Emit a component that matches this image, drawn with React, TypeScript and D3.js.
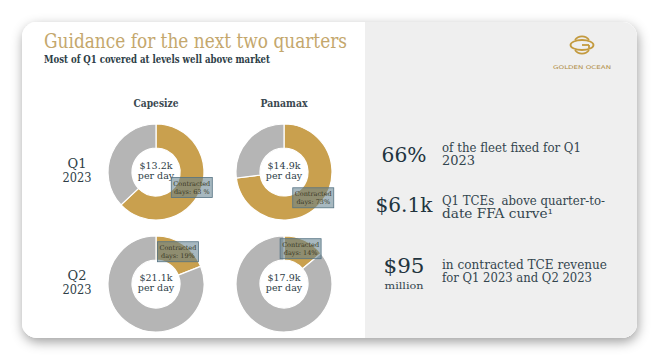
import React from "react";
import * as d3 from "d3";

const categories = ["Capesize", "Panamax"];
const quarters = ["Q1", "Q2"];
const quarterYears = ["2023", "2023"];
const contractedPct = [
  [63, 73],
  [19, 14],
];
const pctLabels = [
  ["63 %", "73%"],
  ["19%", "14%"],
];
const rateK = [
  [13.2, 14.9],
  [21.1, 17.9],
];

const kpiValues = ["66%", "$6.1k", "$95"];
const kpiSub = ["", "", "million"];
const kpiLines = [
  ["of the fleet fixed for Q1", "2023"],
  ["Q1 TCEs  above quarter-to-", "date FFA curve\u00b9"],
  ["in contracted TCE revenue", "for Q1 2023 and Q2 2023"],
];

const W = 660;
const H = 361;
const SERIF = "'DejaVu Serif', 'Liberation Serif', serif";
const GOLD = "#c9a04e";
const GREY = "#b5b5b5";
const DARK = "#2e3e47";

export default function App() {
  const x = d3.scalePoint<string>().domain(categories).range([156, 284]);
  const y = d3.scalePoint<string>().domain(quarters).range([172, 284]);
  const pie = d3
    .pie<number>()
    .sort(null)
    .value((d) => d);
  const arc = d3.arc<d3.PieArcDatum<number>>().innerRadius(24).outerRadius(48);
  const labelArc = d3.arc<d3.PieArcDatum<number>>().innerRadius(30).outerRadius(48);

  const kpiY = [152, 205, 269];
  const kpiBigY = [162, 212, 273];
  const kpiBigW = [45, 57, 41];
  const kpiLineW = [
    [139, 33],
    [163, 111],
    [165, 150],
  ];

  return (
    <svg
      width={W}
      height={H}
      style={{ position: "absolute", left: 0, top: 0, background: "#ffffff" }}
    >
      <defs>
        <filter id="shadow" x="-10%" y="-10%" width="120%" height="130%">
          <feDropShadow dx="1" dy="4" stdDeviation="6" floodColor="#000" floodOpacity="0.38" />
        </filter>
        <clipPath id="card">
          <rect x={22} y={22} width={615} height={316} rx={15} />
        </clipPath>
      </defs>
      <rect x={22} y={22} width={615} height={316} rx={15} fill="#fff" filter="url(#shadow)" />
      <g clipPath="url(#card)">
        <rect x={22} y={22} width={343} height={316} fill="#ffffff" />
        <rect x={365} y={22} width={272} height={316} fill="#efefef" />
      </g>

      {/* Title */}
      <text x={44} y={48} fontFamily={SERIF} fontSize={20} fill="#c4a76c" textLength={303} lengthAdjust="spacingAndGlyphs">
        Guidance for the next two quarters
      </text>
      <text x={44} y={63} fontFamily={SERIF} fontSize={11} fontWeight="bold" fill={DARK} textLength={226} lengthAdjust="spacingAndGlyphs">
        Most of Q1 covered at levels well above market
      </text>

      {/* Column headers */}
      {categories.map((c) => (
        <text key={c} x={x(c)} y={107} textAnchor="middle" fontFamily={SERIF} fontSize={11} fontWeight="bold" fill="#3a4850" textLength={c === "Capesize" ? 45 : 47} lengthAdjust="spacingAndGlyphs">
          {c}
        </text>
      ))}

      {/* Row labels */}
      {quarters.map((q, i) => (
        <g key={q}>
          <text x={77} y={(y(q) as number) - 4} textAnchor="middle" fontFamily={SERIF} fontSize={13} fill={DARK}>
            {q}
          </text>
          <text x={77} y={(y(q) as number) + 10} textAnchor="middle" fontFamily={SERIF} fontSize={13} fill={DARK} textLength={29} lengthAdjust="spacingAndGlyphs">
            {quarterYears[i]}
          </text>
        </g>
      ))}

      {/* Donuts */}
      {quarters.map((q, qi) =>
        categories.map((c, ci) => {
          const pct = contractedPct[qi][ci];
          const arcs = pie([pct, 100 - pct]);
          const [lx, ly] = labelArc.centroid(arcs[0]);
          const cx = x(c) as number;
          const cy = y(q) as number;
          return (
            <g key={q + c} transform={`translate(${cx},${cy})`}>
              {arcs.map((a, k) => (
                <path key={k} d={arc(a) || ""} fill={k === 0 ? GOLD : GREY} stroke="#fff" strokeWidth={1.2} />
              ))}
              <text y={-3} textAnchor="middle" fontFamily={SERIF} fontSize={9.5} fill={DARK}>
                {`$${rateK[qi][ci].toFixed(1)}k`}
              </text>
              <text y={7} textAnchor="middle" fontFamily={SERIF} fontSize={9.5} fill={DARK}>
                per day
              </text>
              <g transform={`translate(${lx},${ly})`}>
                <rect x={-20.5} y={-10} width={41} height={20} fill="rgba(95,125,140,0.55)" stroke="#557383" strokeWidth={0.8} />
                <text y={-1.5} textAnchor="middle" fontFamily={SERIF} fontSize={6.5} fill="#3a3826">
                  Contracted
                </text>
                <text y={6.5} textAnchor="middle" fontFamily={SERIF} fontSize={6.5} fill="#3a3826">
                  {`days: ${pctLabels[qi][ci]}`}
                </text>
              </g>
            </g>
          );
        })
      )}

      {/* Logo */}
      <g transform="translate(582,45)" fill="none" stroke="#c39a3e" strokeWidth={1.8}>
        <path d="M -7 -5 A 8.5 8.5 0 0 1 7 -5" />
        <path d="M -7 5 A 8.5 8.5 0 0 0 7 5" />
        <ellipse rx={11.5} ry={5} />
        <path d="M 0 0 L 7 0" />
        <path d="M 7 0 L 7 3" />
      </g>
      <text x={582} y={69} textAnchor="middle" fontFamily="'DejaVu Sans', sans-serif" fontSize={5} fill="#b08d45" textLength={58} lengthAdjust="spacingAndGlyphs">
        GOLDEN OCEAN
      </text>

      {/* KPIs */}
      {kpiValues.map((v, i) => (
        <g key={v}>
          <text x={404} y={kpiBigY[i]} textAnchor="middle" fontFamily={SERIF} fontSize={21} fill="#22343e" textLength={kpiBigW[i]} lengthAdjust="spacingAndGlyphs">
            {v}
          </text>
          {kpiSub[i] ? (
            <text x={404} y={kpiBigY[i] + 16} textAnchor="middle" fontFamily={SERIF} fontSize={10} fill="#33454e" textLength={39} lengthAdjust="spacingAndGlyphs">
              {kpiSub[i]}
            </text>
          ) : null}
          {kpiLines[i].map((line, j) => (
            <text key={j} x={442} y={kpiY[i] + j * 13} fontFamily={SERIF} fontSize={12} fill="#33454e" textLength={kpiLineW[i][j]} lengthAdjust="spacingAndGlyphs" style={{ whiteSpace: "pre" }}>
              {line}
            </text>
          ))}
        </g>
      ))}
    </svg>
  );
}
